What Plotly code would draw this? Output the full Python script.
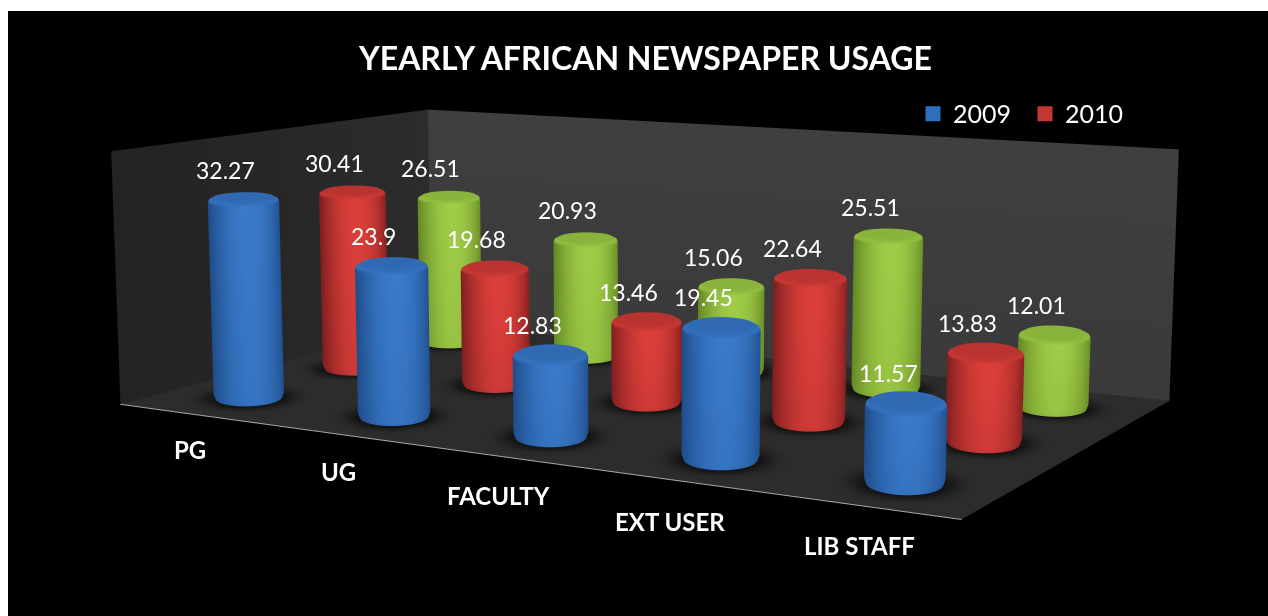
import numpy as np
import plotly.graph_objects as go

categories = ["PG", "UG", "FACULTY", "EXT USER", "LIB STAFF"]
values_2009 = [32.27, 23.9, 12.83, 19.45, 11.57]
values_2010 = [30.41, 19.68, 13.46, 22.64, 13.83]
values_third = [26.51, 20.93, 15.06, 25.51, 12.01]
series = [values_2009, values_2010, values_third]
legend_names = ["2009", "2010"]
legend_colors = ["#2f6fbe", "#c33634"]
palettes = [("#1f4d8a", "#3a7aca"), ("#7f1f1f", "#dc3f3a"), ("#648824", "#a0cc48")]

# Pixel nudges for the category labels along the floor's front edge
label_dx = [7, 4, 0, -8, -13]
label_dy = [0, 0, 0, 0, 5]

W = 1268
CENTRE_Y = 308.0

# Camera: eye position, heading/pitch/roll, focal length in pixels
EYE = np.array([1.807, -1.980, 0.5554])
YAW, PITCH, ROLL = -0.5258, 0.1691, -0.000257
FOCAL = 2414.0
# Box depth and height relative to a box width of 1
DEPTH, HEIGHT = 0.6002, 0.2814
# Cylinder foot: half width across the line of sight, half length along it
R_ACROSS, R_ALONG = 0.039, 0.050

fig_h = 2 * FOCAL * np.tan(np.pi / 8)
offset = fig_h / 2 - CENTRE_Y

XR, YR, ZR = (-1.0, 6.0), (-2.0, 4.0), (-8.0, 45.0)
ux, uy, uz = 1 / 5, DEPTH / 3, HEIGHT / 40


def camera_axes(yaw, pitch, roll):
    fw = np.array([np.sin(yaw) * np.cos(pitch), np.cos(yaw) * np.cos(pitch), -np.sin(pitch)])
    r0 = np.array([np.cos(yaw), -np.sin(yaw), 0.0])
    u0 = np.cross(r0, fw)
    return fw, -np.sin(roll) * r0 + np.cos(roll) * u0


def sight_axes(xc, yc):
    """Unit vector towards the eye from a floor position, and the one across it, in box units."""
    v = np.array([EYE[0] - xc * ux, EYE[1] - yc * uy])
    v /= np.hypot(*v)
    return v, np.array([v[1], -v[0]])


aspect = np.array([(XR[1] - XR[0]) * ux, (YR[1] - YR[0]) * uy, (ZR[1] - ZR[0]) * uz])
box_mid = np.array([sum(XR) / 2 * ux, sum(YR) / 2 * uy, sum(ZR) / 2 * uz])
forward, up = camera_axes(YAW, PITCH, ROLL)
eye = EYE - box_mid
look = EYE + forward - box_mid

flat = dict(ambient=1, diffuse=0, specular=0, fresnel=0)

fig = go.Figure()

# Floor, darkened softly around each cylinder's foot
gx, gy = np.meshgrid(np.linspace(0, 5, 500), np.linspace(0, 3, 300))
floor = np.ones_like(gx)
for i in range(5):
    for j in range(3):
        v, w = sight_axes(i + 0.5, j + 0.5)
        px, py = (gx - i - 0.5) * ux, (gy - j - 0.5) * uy
        d = np.hypot((px * w[0] + py * w[1]) / R_ACROSS, (px * v[0] + py * v[1]) / R_ALONG)
        floor = np.minimum(floor, 1 - 0.7 * np.exp(-np.clip(d - 0.9, 0, None) ** 2 / 0.2))
fig.add_trace(go.Surface(x=gx, y=gy, z=np.zeros_like(gx), surfacecolor=floor, cmin=0, cmax=1,
                         colorscale=[[0, "#0a0a0a"], [1, "#2c2c2c"]], showscale=False,
                         lighting=flat, hoverinfo="skip"))

# Side wall and back wall
wy, wz = np.meshgrid(np.linspace(0, 3, 8), np.linspace(0, 40, 8))
fig.add_trace(go.Surface(x=np.zeros_like(wy), y=wy, z=wz, surfacecolor=wy / 3, cmin=0, cmax=1,
                         colorscale=[[0, "#232323"], [1, "#2c2c2c"]], showscale=False,
                         lighting=flat, hoverinfo="skip"))
wx, wz = np.meshgrid(np.linspace(0, 5, 8), np.linspace(0, 40, 8))
fig.add_trace(go.Surface(x=wx, y=np.full_like(wx, 3.0), z=wz, surfacecolor=wz / 40, cmin=0, cmax=1,
                         colorscale=[[0, "#3a3a3a"], [1, "#3f3f3f"]], showscale=False,
                         lighting=flat, hoverinfo="skip"))

# Bright front edge of the floor
fig.add_trace(go.Scatter3d(x=[0, 5], y=[0, 0], z=[0, 0], mode="lines", line=dict(color="#a8a8a8", width=2),
                           showlegend=False, hoverinfo="skip"))

phi = np.linspace(0, 2 * np.pi, 73)


def add_cylinder(xc, yc, height, palette):
    ch = 0.8
    v, w = sight_axes(xc, yc)
    # phi = pi/2 faces the eye; the highlight sits a little to the left of that
    facing = np.clip(np.sin(phi - 0.1), 0, 1) ** 1.8
    # (radius factor, height, shade); a None shade means the lit curved side
    rings = [(0.0, height, 0.62), (0.84, height, 0.64), (0.97, height - ch * 0.5, 0.78), (1.0, height - ch, None)]
    for t, lvl in ((0.2, 0.98), (0.5, 0.94), (0.8, 0.88)):
        rings.append((1.0, (height - ch) * (1 - t) + ch * t, lvl))
    rings += [(1.0, ch, 0.86), (0.95, 0.0, 0.8)]
    X, Y, Z, C = [], [], [], []
    for k, (rm, zz, lvl) in enumerate(rings):
        a, b = rm * R_ACROSS * np.cos(phi), rm * R_ALONG * np.sin(phi)
        X.append(xc + (a * w[0] + b * v[0]) / ux)
        Y.append(yc + (a * w[1] + b * v[1]) / uy)
        Z.append(np.full_like(phi, zz))
        C.append(np.full_like(phi, lvl) if k < 3 else (lvl or 1.0) * facing)
    fig.add_trace(go.Surface(x=np.array(X), y=np.array(Y), z=np.array(Z), surfacecolor=np.array(C), cmin=0, cmax=1,
                             colorscale=[[0, palette[0]], [1, palette[1]]], showscale=False,
                             lighting=flat, hoverinfo="skip"))


scene_notes = []
for j, (vals, pal) in enumerate(zip(series, palettes)):
    for i, val in enumerate(vals):
        add_cylinder(i + 0.5, j + 0.5, val, pal)
        scene_notes.append(dict(x=i + 0.5, y=j + 0.5, z=val, text=f"{val:g}", showarrow=False, xshift=-18, yshift=27,
                                font=dict(family="Lato", size=23, color="white")))
for i, c in enumerate(categories):
    scene_notes.append(dict(x=i + 0.7, y=-0.3, z=-3.2, text=c, showarrow=False, xshift=label_dx[i], yshift=label_dy[i],
                            font=dict(family="Lato", size=24, color="white", weight="bold")))

# Legend entries for the two named years
for name, col in zip(legend_names, legend_colors):
    fig.add_trace(go.Scatter3d(x=[None], y=[None], z=[None], mode="markers", name=name,
                               marker=dict(symbol="square", size=15, color=col)))

fig.update_layout(
    width=W, height=fig_h, margin=dict(l=0, r=0, t=0, b=0), paper_bgcolor="black", hovermode=False,
    annotations=[dict(xref="paper", yref="paper", x=645 / W, y=1 - (offset + 58) / fig_h,
                      text="<b>YEARLY AFRICAN NEWSPAPER USAGE</b>", showarrow=False,
                      font=dict(family="Lato", size=32, color="white"))],
    legend=dict(orientation="h", xanchor="left", x=913 / W, yanchor="middle", y=1 - (offset + 114) / fig_h,
                bgcolor="rgba(0,0,0,0)", font=dict(family="Lato", size=25, color="white"),
                entrywidth=67, entrywidthmode="pixels"),
    scene=dict(
        domain=dict(x=[0, 1], y=[0, 1]), bgcolor="black",
        xaxis=dict(visible=False, range=XR), yaxis=dict(visible=False, range=YR), zaxis=dict(visible=False, range=ZR),
        aspectmode="manual", aspectratio=dict(x=aspect[0], y=aspect[1], z=aspect[2]),
        camera=dict(eye=dict(x=eye[0], y=eye[1], z=eye[2]), center=dict(x=look[0], y=look[1], z=look[2]),
                    up=dict(x=up[0], y=up[1], z=up[2])),
        annotations=scene_notes,
    ),
)

# The scene is taller than the window, so slide it up to frame the view and trim the page edge
post = ("var gd=document.getElementById('{plot_id}');gd.style.position='relative';gd.style.top='-%dpx';"
        "gd.style.clipPath='inset(%dpx 0 0 8px)';document.documentElement.style.overflow='hidden';"
        "document.body.style.overflow='hidden';" % (round(offset), round(offset) + 11))
fig.write_html("out.html", post_script=post, config=dict(displayModeBar=False))
